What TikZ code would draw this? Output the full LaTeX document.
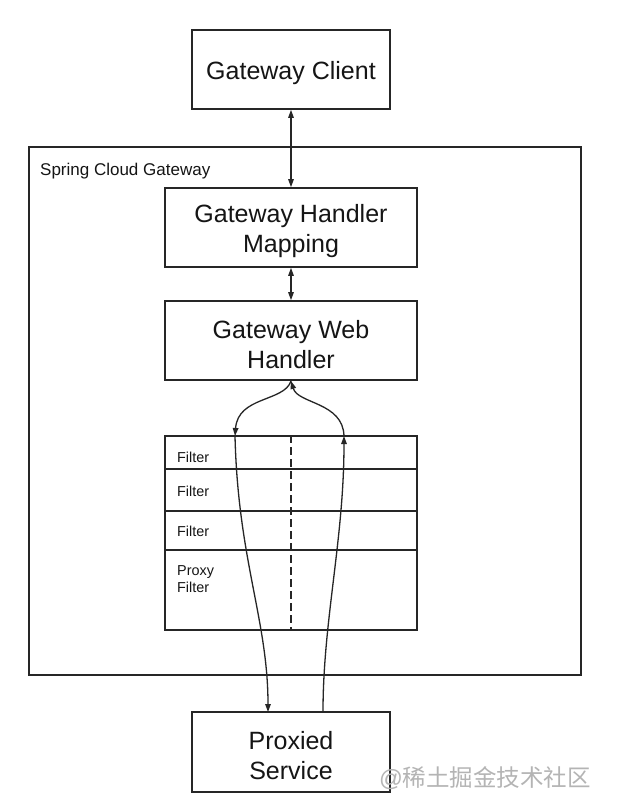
\documentclass[tikz,border=0pt]{standalone}
\usepackage{fontspec}
\setmainfont{Liberation Sans}
\newfontfamily\cjkfont{Noto Sans CJK SC}
\usetikzlibrary{arrows.meta}
\definecolor{lineclr}{HTML}{262626}
\definecolor{txtclr}{HTML}{151515}
\definecolor{wmclr}{HTML}{B4B4B4}
\newcommand{\tallstrut}{\rule{0pt}{26pt}}
\tikzset{
  boxstyle/.style={draw=lineclr, line width=1.6pt, rectangle, inner sep=0pt, align=center,
    text=txtclr, font=\fontsize{25}{30}\selectfont},
  rowstyle/.style={draw=lineclr, line width=1.6pt, rectangle, inner sep=0pt,
    minimum width=252pt},
  smalllabel/.style={text=txtclr, font=\fontsize{14.4}{17}\selectfont, align=left, inner sep=0pt},
  conn/.style={draw=lineclr, line width=1.3pt},
  tip/.style={-{Triangle[length=8pt,width=5.5pt]}},
  dtip/.style={{Triangle[length=8pt,width=5.5pt]}-{Triangle[length=8pt,width=5.5pt]}},
}
\begin{document}
\begin{tikzpicture}[x=1pt,y=-1pt]
\useasboundingbox (0,0) rectangle (644,804);
\fill[white] (0,0) rectangle (644,804);

% outer frame
\node[draw=lineclr, line width=1.6pt, rectangle, minimum width=552pt, minimum height=528pt, inner sep=0pt]
  (frame) at (305,411) {};
\node[anchor=west, text=txtclr, font=\fontsize{17}{20}\selectfont, inner sep=0pt] (framelabel) at (40,171.5) {Spring Cloud Gateway};

% boxes
\node[boxstyle, minimum width=198pt, minimum height=79pt] (client) at (291,69.5) {\tallstrut Gateway Client};
\node[boxstyle, minimum width=252pt, minimum height=79pt] (mapping) at (291,227.5) {\tallstrut Gateway Handler\\Mapping};
\node[boxstyle, minimum width=252pt, minimum height=79pt] (web) at (291,340.5) {\tallstrut Gateway Web\\Handler};
\node[boxstyle, minimum width=198pt, minimum height=80pt] (proxied) at (291,752) {\tallstrut Proxied\\Service};

% filter table
\node[rowstyle, minimum height=33pt] (f1) at (291,452.5) {};
\node[rowstyle, minimum height=42pt] (f2) at (291,490) {};
\node[rowstyle, minimum height=39pt] (f3) at (291,530.5) {};
\node[rowstyle, minimum height=80pt] (f4) at (291,590) {};
\node[smalllabel, anchor=west] (l1) at (177,457) {Filter};
\node[smalllabel, anchor=west] (l2) at (177,491) {Filter};
\node[smalllabel, anchor=west] (l3) at (177,531) {Filter};
\node[smalllabel, anchor=north west] (l4) at (177,565) {Proxy\\Filter};

% dashed separator
\draw[lineclr, line width=1.3pt, dash pattern=on 8pt off 4pt] (f1.north) -- (f4.south);

% straight double arrows
\draw[conn, dtip] (client.south) -- (mapping.north);
\draw[conn, dtip] (mapping.south) -- (web.north);

% curved paths
\coordinate (wtop) at (291,381);
\coordinate (lin) at (235,436);
\coordinate (rin) at (344,436);
\coordinate (lout) at (268,712);
\coordinate (rout) at (323,712);
\draw[conn, tip] (wtop) .. controls (284,402) and (238,396) .. (lin);
\draw[conn, tip] (rin) .. controls (343,402) and (298,404) .. (wtop);
\draw[conn, tip] (lin) .. controls (238,560) and (268,620) .. (lout);
\draw[conn, tip] (rout) .. controls (323,620) and (344,540) .. (rin);

% watermark
\node[text=wmclr, font=\fontsize{23.5}{25}\selectfont, inner sep=0pt] (wm) at (485,778) {@{\cjkfont 稀土掘金技术社区}};
\end{tikzpicture}
\end{document}
